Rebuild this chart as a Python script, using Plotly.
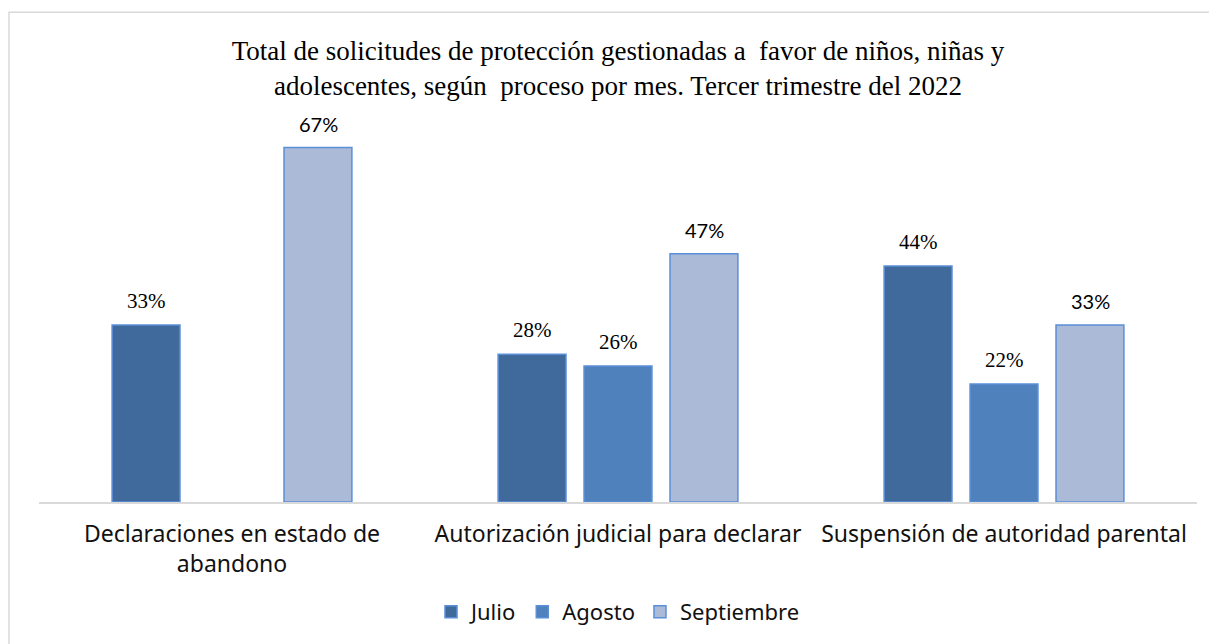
import plotly.graph_objects as go

categories = ["Declaraciones en estado de<br>abandono",
              "Autorización judicial para declarar",
              "Suspensión de autoridad parental"]
julio = [33.3, 27.8, 44.4]
agosto = [None, 25.6, 22.2]
septiembre = [66.7, 46.7, 33.3]
series_names = ["Julio", "Agosto", "Septiembre"]
colors = ["#416A9C", "#4F81BD", "#AABAD7"]
label_fonts = ["Liberation Serif, Times New Roman, serif",
               "Liberation Serif, Times New Roman, serif",
               "Lato, sans-serif"]
label_sizes = [21, 21, 20]

title_text = ("Total de solicitudes de protección gestionadas a  favor de niños, niñas y<br>"
              "adolescentes, según  proceso por mes. Tercer trimestre del 2022")

# page body has an 8px margin; lay out in reference coordinates minus 8
OFF = 8
W, H = 1217 - OFF, 644 - OFF
L = 39 - OFF
R = W - (1197 - OFF)
T = 130 - OFF
B = H - (503 - OFF)
pw = W - L - R
ph = H - T - B


def px(x):
    return (x - OFF - L) / pw


def py(y):
    return (H - B - (y - OFF)) / ph


fig = go.Figure()
all_series = [julio, agosto, septiembre]
for name, vals, col in zip(series_names, all_series, colors):
    fig.add_trace(go.Bar(
        x=categories, y=vals, name=name,
        marker=dict(color=col, line=dict(color="#5B8FD8", width=1.5)),
    ))

slot = 86  # px between bar centres within a group
for i, (vals, fam, sz) in enumerate(zip(all_series, label_fonts, label_sizes)):
    for cat, v in zip(categories, vals):
        if v is None:
            continue
        fig.add_annotation(x=cat, y=v, xref="x", yref="y",
                           text=f"{v:.0f}%", showarrow=False,
                           xshift=(i - 1) * slot, yshift=10, yanchor="bottom",
                           font=dict(family=fam, size=sz, color="#000000"))

fig.add_shape(type="path", xref="paper", yref="paper",
              path=f"M {px(9)} {py(660)} L {px(9)} {py(12)} L {px(1240)} {py(12)}",
              line=dict(color="#D9D9D9", width=1.5))

fig.update_layout(
    width=W, height=H,
    margin=dict(l=L, r=R, t=T, b=B),
    paper_bgcolor="white", plot_bgcolor="white",
    barmode="group", bargap=0.332, bargroupgap=0.21,
    title=dict(text=title_text, x=0.5, xref="paper", xanchor="center",
               y=1 - (60 - OFF) / H, yanchor="middle",
               font=dict(family="Liberation Serif", size=27, color="#000000")),
    xaxis=dict(showline=True, linecolor="#D9D9D9", linewidth=2, ticks="",
               ticklabelstandoff=10,
               tickfont=dict(family="Noto Sans", size=23, color="#111111"),
               showgrid=False),
    yaxis=dict(range=[0, 70], visible=False, showgrid=False, zeroline=False),
    legend=dict(orientation="h", x=0.5, xanchor="center", y=py(612), yanchor="middle",
                font=dict(family="Noto Sans", size=22, color="#111111"),
                itemwidth=30, traceorder="normal"),
    showlegend=True,
)

fig.write_html("out.html")
